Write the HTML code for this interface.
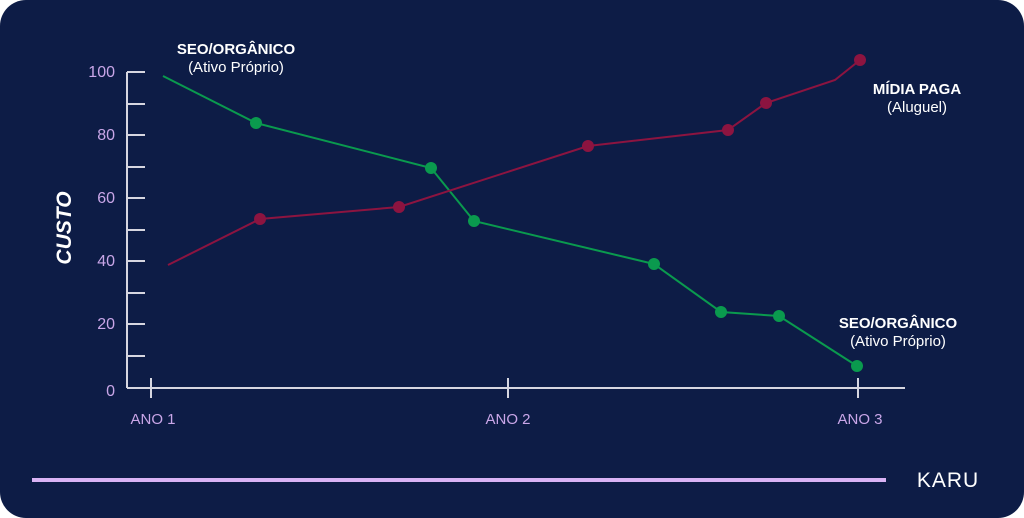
<!DOCTYPE html>
<html><head><meta charset="utf-8"><style>
html,body{margin:0;padding:0;background:#fff;}
svg{display:block;}
text{font-family:"Liberation Sans",sans-serif;}
</style></head><body>
<svg width="1024" height="518" viewBox="0 0 1024 518">
<rect x="0" y="0" width="1024" height="518" rx="26" fill="#0d1c46"/>
<g stroke="#d6d6e0" stroke-width="2" fill="none">
<line x1="127" y1="72" x2="127" y2="388"/>
<line x1="127" y1="72" x2="145" y2="72"/>
<line x1="127" y1="104" x2="145" y2="104"/>
<line x1="127" y1="135" x2="145" y2="135"/>
<line x1="127" y1="167" x2="145" y2="167"/>
<line x1="127" y1="198" x2="145" y2="198"/>
<line x1="127" y1="230" x2="145" y2="230"/>
<line x1="127" y1="261" x2="145" y2="261"/>
<line x1="127" y1="293" x2="145" y2="293"/>
<line x1="127" y1="324" x2="145" y2="324"/>
<line x1="127" y1="356" x2="145" y2="356"/>
<line x1="127" y1="388" x2="905" y2="388"/>
<line x1="151" y1="378" x2="151" y2="398"/>
<line x1="508" y1="378" x2="508" y2="398"/>
<line x1="858" y1="378" x2="858" y2="398"/>
</g>
<g fill="#c9a6e8" font-size="16" text-anchor="end">
<text x="115" y="77">100</text><text x="115" y="140">80</text><text x="115" y="203">60</text>
<text x="115" y="266">40</text><text x="115" y="329">20</text><text x="115" y="396">0</text>
</g>
<g fill="#c9a6e8" font-size="15" text-anchor="middle">
<text x="153" y="424">ANO 1</text><text x="508" y="424">ANO 2</text><text x="860" y="424">ANO 3</text>
</g>
<text transform="translate(71,228) rotate(-90)" text-anchor="middle" fill="#fff" font-size="21" font-weight="bold" font-style="italic">CUSTO</text>
<polyline fill="none" stroke="#0a9a4e" stroke-width="2" points="163,76 256,123 431,168 474,221 654,264 721,312 779,316 857,366"/>
<polyline fill="none" stroke="#8c1440" stroke-width="2" points="168,265 260,219 399,207 588,146 728,130 766,103 835,80 860,60"/>
<g fill="#0a9a4e">
<circle cx="256" cy="123" r="6"/><circle cx="431" cy="168" r="6"/><circle cx="474" cy="221" r="6"/>
<circle cx="654" cy="264" r="6"/><circle cx="721" cy="312" r="6"/><circle cx="779" cy="316" r="6"/><circle cx="857" cy="366" r="6"/>
</g>
<g fill="#8c1440">
<circle cx="260" cy="219" r="6"/><circle cx="399" cy="207" r="6"/><circle cx="588" cy="146" r="6"/>
<circle cx="728" cy="130" r="6"/><circle cx="766" cy="103" r="6"/><circle cx="860" cy="60" r="6"/>
</g>
<g fill="#fff" text-anchor="middle">
<text x="236" y="54" font-size="15" font-weight="bold">SEO/ORGÂNICO</text>
<text x="236" y="72" font-size="15">(Ativo Próprio)</text>
<text x="917" y="94" font-size="15" font-weight="bold">MÍDIA PAGA</text>
<text x="917" y="112" font-size="15">(Aluguel)</text>
<text x="898" y="328" font-size="15" font-weight="bold">SEO/ORGÂNICO</text>
<text x="898" y="346" font-size="15">(Ativo Próprio)</text>
</g>
<line x1="32" y1="480" x2="886" y2="480" stroke="#d9b3f5" stroke-width="4"/>
<text x="948" y="487" fill="#fff" font-size="21" text-anchor="middle" letter-spacing="1">KARU</text>
</svg>
</body></html>
